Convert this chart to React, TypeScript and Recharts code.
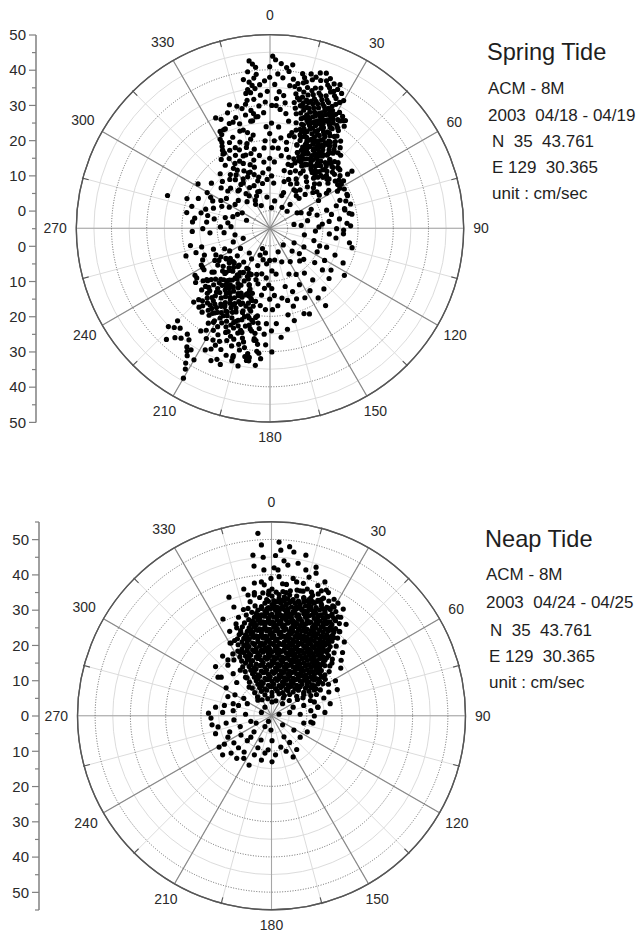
import React from 'react';
import {
  RadarChart,
  PolarGrid,
  PolarAngleAxis,
  PolarRadiusAxis,
  LineChart,
  Line,
  YAxis,
  XAxis,
  ScatterChart,
  Scatter,
} from 'recharts';

const FONT = 'Arial, "Liberation Sans", Helvetica, sans-serif';

// ---------------- DATA ----------------
// Spring tide: [direction (deg, clockwise from north), speed (cm/s)]
const springNNE: [number, number][] = [
  [10,36],[14,38],[18,35],[22,39],[26,37],[12,40],[16,34.5],[20,37.5],[24,35],[28,38.5],[11,34],[15,36.5],[19,39.5],[23,36],[27,34],[13,37.5],[17,40],[21,35.5],[25,38],[29,36],[9,38],[14,35],[18,37],[22,34.5],[26,39],[30,37],[12,35.5],[16,39],[20,36],[24,37.5],[28,35],[15,40.5],[19,34],[23,38.5],[27,36.5],[11,37],[21,40],[25,34.5],[17,36],[13,39],[22,41],[26,40.5],[18,41.5],[24,40],[20,42],
  [12,30],[15,32],[18,29],[21,33],[24,31],[27,28.5],[30,32.5],[33,30],[14,33.5],[17,31],[20,28],[23,30.5],[26,33],[29,29.5],[32,31.5],[35,29],[13,28.5],[16,30],[19,32.5],[22,29.5],[25,32],[28,30],[31,33.5],[34,32],[11,31.5],[18,33],[21,30.5],[24,28.5],[27,31.5],[30,29],[33,33],[15,29],[20,31.5],[23,33.5],[26,29],[29,32],[36,31],[17,28],[22,32],[25,30],[28,33],[31,30],[14,31],[19,30],[24,33],[27,29.5],[32,28.5],[16,33],[21,29],[26,31],[30,31],[34,29.5],[13,32.5],[18,31],[23,28],[28,31.5],[20,33.5],[25,29],[29,30.5],[33,31.5],[15,31],[22,30],[27,32.5],[31,28.5],[19,28.5],[24,30],[35,32.5],[17,32.5],[26,28],[12,33],
  [15,24],[18,26],[21,23],[24,27],[27,25],[30,22.5],[33,26.5],[36,24],[39,27],[16,27.5],[19,22.5],[22,25.5],[25,23],[28,27.5],[31,24.5],[34,22],[37,26],[40,23.5],[17,24.5],[20,27],[23,22],[26,26],[29,23.5],[32,27],[35,25],[38,22.5],[41,25.5],[18,23],[21,26.5],[24,24.5],[27,22.5],[30,26],[33,24],[36,27.5],[14,26],[19,25],[22,27.5],[25,25.5],[28,23],[31,27],[34,25],[37,23],[20,24],[23,26],[26,23.5],[29,26.5],[32,23],[35,27],[24,22.5],[27,27],[30,24],[17,26],[21,24.5],[28,25],[33,22.5],[38,25],[42,24],[25,28],[19,27.5],[31,25.5],
  [18,20],[22,17],[26,21],[30,16],[34,19],[38,21.5],[42,17.5],[46,20],[20,18],[24,21],[28,15.5],[32,20],[36,17],[40,19.5],[44,16],[48,21],[21,15],[25,18.5],[29,20.5],[33,16.5],[37,19],[41,21],[45,18],[49,16.5],[19,21.5],[23,16],[27,19],[31,21.5],[35,15.5],[39,18],[43,20.5],[47,17],[26,17],[30,19],[34,21],[38,16],[42,19],[50,19],[24,19.5],[28,17.5],[32,18],[36,20.5],[40,15],[46,16],[22,19],[44,21.5],[29,16],[33,21],[37,17.5],[41,16.5],
];
const springNE: [number, number][] = [
  [15,22],[22,20],[30,18],[38,22],[45,20],[50,17],[27,15],[35,13],[42,11],[20,12],[12,18],[55,22],[33,23],[40,16],[25,9],[48,14],[18,24],[58,19],[31,10],[44,24],[23,17],[37,19],[52,12],[16,14],[29,21],[46,9],[39,7],[21,6],[34,16],[57,15],[26,19],[43,18],[13,23],[49,21],[32,8],[24,13],[41,14],[54,18],[19,16],[36,21],[28,11],[47,17],[11,20],[53,20],[35,24],[30,14],[22,23],[42,20],[17,9],[38,12],[60,18],[27,22],[45,13],[33,19],[20,18],[50,21],[25,16],[40,23],[14,12],[56,12],[31,20],[37,15],[44,7],[23,21],[48,19],[29,13],[35,8],[18,20],[52,16],[26,24],[41,21],[32,17],[15,16],[46,22],[38,9],[24,18],[55,19],[21,10],[43,15],[28,23],[36,18],[12,22],[50,11],[30,22],[39,24],[19,14],[47,12],[34,20],[57,20],[25,20],
];
const springNorth: [number, number][] = [
  [352,28],[353,32],[351,35],[354,38],[352,40],[355,30],[350,34],[353,36],[354,42],[351,29],[356,33],[352,37],[349,31],[355,39],[353,27],[350,38],[354,35],[358,37],[0,41],[2,43],[4,42],[3,39],[6,41],[5,38],[1,44],[7,40],[8,42],[2,36],[0,38],[359,34],[357,28],[4,34],[6,33],[351,26],[355,41],[353,43],[1,30],[3,32],[358,31],[356,36],[5,29],[350,32],[352,34],[8,36],[7,31],
];
const springNNW: [number, number][] = [
  [340,30],[341,27],[343,24],[335,22],[330,18],[345,20],[338,15],[325,12],[348,28],[333,25],[320,9],[342,17],[336,29],[328,20],[346,13],[339,19],[318,16],[344,26],[331,14],[347,23],[337,11],[331,23],[349,18],[334,8],[341,21],[325,19],[345,31],[333,26],[338,23],[316,11],[343,14],[332,16],[348,10],[336,26],[324,14],[340,8],[346,17],[330,22],[342,32],[327,10],[335,18],[350,22],[329,21],[344,11],[333,20],[339,27],[321,13],[347,15],[328,6],[352,16],[336,13],[325,17],[343,28],[331,24],[357,20],[338,5],[345,24],[329,20],[341,12],[334,30],[355,14],[329,15],[350,26],[337,20],[315,14],[346,9],[332,11],[353,11],[340,17],[326,7],[348,21],[335,26],[358,24],[330,10],[344,19],[354,27],[342,6],[322,9],[356,18],[339,12],[312,7],[347,30],[333,4],[359,12],[336,16],[351,8],[328,13],[345,6],[357,9],
  [0,15],[3,20],[5,24],[2,10],[6,18],[8,28],[4,14],[1,25],[7,21],[9,16],[5,8],[3,30],[0,22],[10,26],[2,18],
];
const springWest: [number, number][] = [
  [300,15.5],[296,13],[278,16.5],[275,17],[283,15],[290,12],[305,10],[270,14],[286,18],[298,8],[280,11],[293,17],[310,13],[272,9],[288,6],[302,19],[266,12],[284,8],[295,10],[276,13],[308,16],[290,20],[268,17],[281,19],[298,14],[273,6],[305,7],[287,14],[294,5],[278,7],[312,11],[265,8],[288,25.5],[300,11],[282,13],
];
const springSSW: [number, number][] = [
  [186,28],[190,31],[194,27],[198,30],[202,32],[206,28.5],[210,31],[213,27],[188,26.5],[192,29.5],[196,32.5],[200,27.5],[204,30],[208,26.5],[212,29],[185,30.5],[189,33],[193,28],[197,26],[201,29],[205,31.5],[209,28],[214,30],[187,27],[191,32],[195,29],[199,33],[203,27],[207,30.5],[211,26],[184,32],[198,28],[202,26.5],[206,33],[194,30.5],
  [187,22],[190,24.5],[193,21],[196,25],[199,22.5],[202,20.5],[205,24],[208,21.5],[211,25.5],[214,22],[217,24],[220,20.5],[223,23],[226,25],[189,20.5],[192,23],[195,25.5],[198,20],[201,23.5],[204,21],[207,25],[210,22.5],[213,20.5],[216,23],[219,25.5],[222,21.5],[225,23.5],[228,21],[188,25],[191,21.5],[194,23.5],[197,22],[200,25],[203,22.5],[206,20],[209,24],[212,23],[215,25],[218,21],[221,24],[224,20.5],[186,23.5],[196,21],[200,23],[204,25.5],[208,23],[212,21],[216,21.5],[220,22.5],[194,20.5],[198,24],[202,24.5],[206,22.5],[210,20.5],[214,24],[218,22.5],[222,25],[190,22],[207,21.5],[213,23.5],
  [191,16],[194,18.5],[197,15],[200,17.5],[203,19.5],[206,15.5],[209,18],[212,16.5],[215,19],[218,15],[221,17.5],[224,19.5],[227,16],[230,18],[233,15.5],[193,19],[196,17],[199,14.5],[202,16],[205,18.5],[208,14],[211,19.5],[214,17],[217,15.5],[220,18.5],[223,16],[226,19],[229,17],[232,19],[195,15.5],[198,19.5],[201,18],[204,15],[207,17],[210,15.5],[213,18],[216,16.5],[219,19.5],[222,14.5],[225,17.5],[228,19.5],[192,17.5],[205,16],[210,17.5],[215,14.5],[220,16],[200,15],[203,17.5],[208,19],[212,14.5],[218,18],[224,15],[197,18],[206,19],[214,15.5],
  [195,10],[200,12],[205,9],[210,13],[215,11],[220,8.5],[225,12.5],[230,10],[235,13],[240,11],[198,13.5],[203,10.5],[208,8],[213,12],[218,13.5],[223,10],[228,13],[233,9],[238,12],[196,8.5],[206,11.5],[211,9.5],[216,13],[221,11],[226,9],[231,12],[202,9],[214,10],[224,11.5],[236,10],
];
const springSouthFringe: [number, number][] = [
  [185,12],[190,8],[195,14],[240,13],[245,16],[235,10],[230,7],[180,15],[188,20],[183,25],[186,30],[190,33],[193,35],[188,27],[182,22],[178,18],[184,9],[192,11],[198,6],[205,10],[210,8],[215,12],[220,9],[225,13],[232,15],[238,17],[242,17],[248,15],[252,17],[236,20],[240,17],[244,12],[234,21],[238,20],[200,12],[207,13],[213,11],[219,14],[226,11],[231,18],[187,17],[194,16],[181,11],[176,14],[179,24],[189,32],[196,34],[202,35],[208,34],[198,13],[203,9],[211,5],[218,7],[228,9],[246,9],[250,12],[255,15],[258,18],[252,20],[185,5],[192,4],[200,3],[236,5],[241,8],[177,7],[183,18],[187,14],[191,24],[186,34],[179,30],[182,28],
  [222,33],[224,34],[219,35],[215,36],[214,37],[213,38],[212,40],[211,41.5],[210,44],[213,36],[216,34],[218,33],[221,36],[210,38],[225,32],[226,35],[223,38],[204,36],[200,36],[196,33],
];
const springEast: [number, number][] = [
  [100,18],[103,19],[109,10],[127,11],[137,7.5],[147,16],[155,21.7],[159,16.3],[176,22],[170,15],[165,12],[150,10],[140,14],[130,17],[120,13],[112,15],[105,8],[118,6],[135,4],[160,5],[172,8],[145,19],[152,13],[163,18],[168,20],[174,17],[157,9],[142,11],[132,8],[124,16],[116,10],[108,12],[98,14],[160,14],[148,6],[138,18],[128,14],[153,17],[166,16],[178,12],[171,4],[158,21],[144,22],[115,18],[122,20],[174,26],[170,24],[165,22],
  [68,16.5],[80,18.7],[55,23.5],[62,19],[72,12],[85,10],[90,14],[75,17],[65,8],[58,14],[78,6],[88,18],[93,8],[70,18],[60,11],[82,15],[67,19],[74,9],[86,17],[95,12],[63,5],[77,13],[84,4],[91,16],[57,18],[71,15],[79,18],[66,19],[88,9],[61,17],[73,19],[83,12],[94,16],[69,7],[76,17],
  [10,3],[40,4],[80,2],[120,3],[160,2],[200,1],[250,3],[290,2],[330,3],[20,5],[60,4],[100,5],[140,1],[180,4],[220,4],[260,5],[300,4],[340,2],[5,1],[45,2],[130,6],[250,6],[320,5],[355,4],[30,2],[190,2],
];

// Neap tide: [east, north] velocity components (cm/s)
const neapCore: [number, number][] = [
  [0,34],[2,34.4],[3.5,33.8],[5,34.3],[7,34],[9,33.6],[11.5,34.2],
  [-1.5,33],[0.5,32.7],[2,33.3],[3,32.8],[4.5,33.2],[6,33],[7.5,32.6],[9,33.4],[10.5,33],[13,32.8],
  [-2,32],[0,31.6],[1,32.3],[2.5,32],[4,31.7],[5,32.2],[6.5,32],[8,31.6],[9,32.4],[10.5,31.8],[12,32],[14,31.7],
  [-3,31],[-1,30.7],[0.5,31.3],[1.5,30.8],[3,31],[4,31.4],[5.5,30.9],[7,31],[8,30.6],[9.5,31.2],[11,31],[12.5,30.7],[14,31.3],[15.5,30.8],
  [-4,30],[-2,29.6],[-0.5,30.3],[1,30],[2,29.7],[3.5,30.2],[4.5,30],[6,29.6],[7,30.4],[8.5,30],[9.5,29.7],[11,30.2],[12,29.8],[13.5,30.1],[15,29.6],[16.5,30.2],
  [-4.5,29],[-3,28.7],[-1.5,29.3],[0,28.8],[1.5,29.1],[2.5,28.6],[4,29.2],[5,28.9],[6.5,29.3],[7.5,28.7],[9,29],[10,29.4],[11.5,28.8],[12.5,29.1],[14,28.7],[15,29.2],[17,28.9],
  [-5,28],[-3.5,27.6],[-2,28.3],[-1,27.8],[0.5,28],[2,28.4],[3,27.7],[4.5,28.1],[5.5,27.8],[7,28.3],[8,27.6],[9.5,28],[10.5,28.4],[12,27.7],[13,28.1],[14.5,27.8],[16,28.2],[17.5,27.7],
  [-5.5,27],[-4,27.3],[-2.5,26.7],[-1,27.1],[0,26.6],[1.5,27.2],[2.5,26.8],[4,27.3],[5,26.7],[6,27],[7.5,27.4],[8.5,26.8],[10,27.1],[11,26.6],[12.5,27.2],[13.5,26.9],[15,27.3],[16,26.7],[18,27],
  [-6,26],[-4.5,25.7],[-3,26.3],[-2,25.8],[-0.5,26.2],[1,25.7],[2,26.1],[3.5,25.8],[4.5,26.3],[6,25.9],[7,26.2],[8,25.6],[9.5,26],[10.5,26.4],[12,25.8],[13,26.1],[14.5,25.7],[15.5,26.2],[17,25.9],
  [-6.5,25],[-5,25.3],[-3.5,24.7],[-2,25.1],[-1,24.6],[0.5,25.2],[1.5,24.8],[3,25.3],[4,24.7],[5.5,25],[6.5,25.4],[7.5,24.8],[9,25.1],[10,24.6],[11.5,25.2],[12.5,24.9],[14,25.3],[15,24.7],[16.5,25.1],[18,24.8],
  [-7,24],[-5.5,23.7],[-4,24.3],[-3,23.8],[-1.5,24.1],[0,23.6],[1,24.2],[2.5,23.8],[3.5,24.3],[5,23.9],[6,24.1],[7,23.6],[8.5,24.2],[9.5,23.8],[11,24.1],[12,23.7],[13.5,24.3],[14.5,23.8],[16,24.1],[17.5,23.7],
  [-7.5,23],[-6,23.3],[-4.5,22.7],[-3,23.1],[-2,22.6],[-0.5,23.2],[0.5,22.8],[2,23.3],[3,22.7],[4.5,23],[5.5,23.4],[7,22.8],[8,23.1],[9,22.6],[10.5,23.2],[11.5,22.9],[13,23.3],[14,22.7],[15.5,23.1],[17,22.8],
  [-8,22],[-6.5,21.7],[-5,22.3],[-4,21.8],[-2.5,22.1],[-1,21.6],[0,22.2],[1.5,21.8],[2.5,22.3],[4,21.9],[5,22.1],[6,21.6],[7.5,22.2],[8.5,21.8],[10,22.1],[11,21.7],[12.5,22.3],[13.5,21.8],[15,22.1],[16,21.7],[17.5,22.2],
  [-8.5,21],[-7,21.3],[-5.5,20.7],[-4,21.1],[-3,20.6],[-1.5,21.2],[-0.5,20.8],[1,21.3],[2,20.7],[3.5,21],[4.5,21.4],[6,20.8],[7,21.1],[8,20.6],[9.5,21.2],[10.5,20.9],[12,21.3],[13,20.7],[14.5,21.1],[15.5,20.8],[17,21.2],
  [-8,20],[-6.5,19.7],[-5,20.3],[-3.5,19.8],[-2.5,20.1],[-1,19.6],[0.5,20.2],[1.5,19.8],[3,20.3],[4,19.9],[5.5,20.1],[6.5,19.6],[7.5,20.2],[9,19.8],[10,20.1],[11.5,19.7],[12.5,20.3],[14,19.8],[15,20.1],[16.5,19.7],
  [-8.5,19],[-7,19.3],[-5.5,18.7],[-4.5,19.1],[-3,18.6],[-2,19.2],[-0.5,18.8],[1,19.3],[2,18.7],[3.5,19],[4.5,19.4],[5.5,18.8],[7,19.1],[8,18.6],[9.5,19.2],[10.5,18.9],[12,19.3],[13,18.7],[14.5,19.1],[16,18.8],
  [-8,18],[-6.5,17.7],[-5,18.3],[-4,17.8],[-2.5,18.1],[-1,17.6],[0,18.2],[1.5,17.8],[2.5,18.3],[4,17.9],[5,18.1],[6.5,17.6],[7.5,18.2],[9,17.8],[10,18.1],[11.5,17.7],[12.5,18.3],[14,17.8],[15.5,18.1],
  [-7.5,17],[-6,17.3],[-4.5,16.7],[-3.5,17.1],[-2,16.6],[-0.5,17.2],[0.5,16.8],[2,17.3],[3,16.7],[4.5,17],[5.5,17.4],[7,16.8],[8,17.1],[9.5,16.6],[10.5,17.2],[12,16.9],[13,17.3],[14.5,16.7],[16,17.1],
  [-7,16],[-5.5,15.7],[-4,16.3],[-3,15.8],[-1.5,16.1],[0,15.6],[1,16.2],[2.5,15.8],[3.5,16.3],[5,15.9],[6,16.1],[7.5,15.6],[8.5,16.2],[10,15.8],[11,16.1],[12.5,15.7],[13.5,16.3],[15,15.8],
  [-7.5,15],[-6,15.3],[-4.5,14.7],[-2.5,15.1],[-1,14.6],[0.5,15.2],[1.5,14.8],[3,15.3],[4,14.7],[5.5,15],[6.5,15.4],[8,14.8],[9,15.1],[10.5,14.6],[11.5,15.2],[13,14.9],[14.5,15.3],
  [-6.5,14],[-5,13.7],[-3.5,14.3],[-2,13.8],[-0.5,14.1],[1,13.6],[2,14.2],[3.5,13.8],[4.5,14.3],[6,13.9],[7,14.1],[8.5,13.6],[9.5,14.2],[11,13.8],[12,14.1],[13.5,13.7],[15,14.3],
  [-6,13],[-4.5,13.3],[-3,12.7],[-1.5,13.1],[0,12.6],[1.5,13.2],[2.5,12.8],[4,13.3],[5,12.7],[6.5,13],[7.5,13.4],[9,12.8],[10,13.1],[11.5,12.6],[12.5,13.2],[14,12.9],
  [-5.5,12],[-4,11.7],[-2.5,12.3],[-1,11.8],[0.5,12.1],[2,11.6],[3,12.2],[4.5,11.8],[5.5,12.3],[7,11.9],[8,12.1],[9.5,11.6],[10.5,12.2],[12,11.8],[13.5,12.1],[15,11.7],
  [-5,11],[-3.5,11.3],[-2,10.7],[-0.5,11.1],[1,10.6],[2.5,11.2],[3.5,10.8],[5,11.3],[6,10.7],[7.5,11],[8.5,11.4],[10,10.8],[11,11.1],[12.5,10.6],[14,11.2],
  [-4.5,10],[-3,9.7],[-1.5,10.3],[0,9.8],[1.5,10.1],[3,9.6],[4,10.2],[5.5,9.8],[6.5,10.3],[8,9.9],[9,10.1],[10.5,9.6],[12,10.2],[13.5,9.8],
  [-4,9],[-2.5,9.3],[-1,8.7],[0.5,9.1],[2,8.6],[3.5,9.2],[4.5,8.8],[6,9.3],[7,8.7],[8.5,9],[10,9.4],[11.5,8.8],[13,9.1],
  [-3.5,8],[-2,7.7],[-0.5,8.3],[1,7.8],[2.5,8.1],[4,7.6],[5,8.2],[6.5,7.8],[8,8.3],[9.5,7.9],[11,8.1],[12.5,7.7],
  [-3,7],[-1.5,7.3],[0,6.7],[1.5,7.1],[3,6.6],[4.5,7.2],[6,6.8],[7.5,7.3],[9,6.7],[10.5,7],[12,7.4],
  [-2,6],[0,5.7],[2,6.3],[3.5,5.8],[5,6.1],[7,5.6],[9,6.2],[11,5.8],
];
const neapCoreFill: [number, number][] = [
  [-1,32.5],[1.5,32.4],[3.5,32.6],[5.5,32.5],[7.5,32.3],[9.5,32.6],[11.5,32.4],[13,32.5],
  [-3,30.5],[-1.5,30.4],[0.5,30.6],[2.5,30.5],[4.5,30.4],[6.5,30.6],[8.5,30.4],[10.5,30.6],[12.5,30.5],[14.5,30.4],[16,30.6],
  [-4,28.5],[-2.5,28.4],[-0.5,28.6],[1.5,28.5],[3.5,28.4],[5.5,28.6],[7.5,28.5],[9.5,28.4],[11.5,28.6],[13.5,28.5],[15.5,28.4],[17,28.5],
  [-5,26.5],[-3.5,26.4],[-1.5,26.6],[0.5,26.5],[2.5,26.4],[4.5,26.6],[6.5,26.5],[8.5,26.4],[10.5,26.6],[12.5,26.5],[14.5,26.4],[16.5,26.6],
  [-6,24.5],[-4.5,24.4],[-2.5,24.6],[-0.5,24.5],[1.5,24.4],[3.5,24.6],[5.5,24.5],[7.5,24.4],[9.5,24.6],[11.5,24.5],[13.5,24.4],[15.5,24.6],[17,24.5],
  [-7,22.5],[-5.5,22.4],[-3.5,22.6],[-1.5,22.5],[0.5,22.4],[3.5,22.6],[6.5,22.5],[9.5,22.4],[12,22.6],[14.5,22.5],[16.5,22.4],
  [-7,20.5],[-5,20.4],[-2,20.6],[0,20.5],[2.5,20.4],[5,20.6],[8.5,20.5],[11,20.4],[13.5,20.6],[16,20.5],
  [-7,18.5],[-4.5,18.4],[-1.5,18.6],[1,18.5],[3,18.4],[6,18.6],[8.5,18.5],[11,18.4],[13.5,18.6],[15,18.5],
  [-6.5,16.5],[-4,16.4],[-1,16.6],[1.5,16.5],[4,16.4],[6.5,16.6],[9,16.5],[11.5,16.4],[14,16.6],[15.5,16.5],
  [-6,14.5],[-3,14.4],[0,14.6],[2.5,14.5],[5,14.4],[7.5,14.6],[10,14.5],[12.5,14.4],[14,14.6],
  [-5,12.5],[-2,12.4],[1,12.6],[3.5,12.5],[6,12.4],[8.5,12.6],[11,12.5],[13,12.4],
  [-4,10.5],[-1,10.4],[2,10.6],[4.5,10.5],[7,10.4],[9.5,10.6],[11.5,10.5],[13,10.4],
  [-3,8.5],[0,8.4],[3,8.6],[5.5,8.5],[7.5,8.4],[10,8.6],[12,8.5],
];
const neapEdge: [number, number][] = [
  [-5,34.3],[-3.5,33.6],[-6.2,32.4],[-4.8,31.2],[-6.8,30.5],[-5.7,29.4],[-7.3,28.6],[-6.6,27.3],[-7.8,26.4],[-8.4,25.3],[-8.9,24.2],[-9.3,23.1],[-9.8,21.9],[-9.6,20.2],[-9.7,18.4],[-9.1,16.8],[-8.6,15.6],[-8.3,13.9],[-7.6,12.6],[-7.1,10.8],[-6.4,9.6],[-5.6,7.9],[-4.9,6.6],[-4.1,5.4],[-2.8,4.6],[-1.2,4.9],[1.1,4.3],[3.2,5.1],[4.9,4.4],[7.2,4.7],[8.8,5.2],[10.9,4.4],[12.6,6.1],[13.7,7.4],[14.4,9.2],[15.1,10.4],[16.2,12.6],[16.4,14.2],[17.1,16.1],[17.6,17.9],[18.2,19.8],[18.6,22.1],[19.2,23.9],[19.1,26.2],[18.7,28.1],[18.1,29.6],[17.2,31.2],[16.1,32.6],[14.6,33.4],[13.1,34.6],[11.2,35.1],[8.8,35.4],[7.1,35.7],[5.2,35.5],[3.1,35.3],[1.2,35.1],[-0.9,35.4],[-2.6,34.9],[20.2,30.3],[19.6,15.8],[-10.6,21.4],[-10.2,26.1],[-11.1,17.6],[-8.1,30.2],[15.4,35.7],[17.6,33.1],[-2.2,37.2],[4.1,37.3],[8.9,37.6],
];
const neapFringe: [number, number][] = [
  [-10.8,30.9],[-12.2,33.7],[-13.9,27.5],[-11.6,20.7],[-15.3,11],[-12.5,15.9],[-10.8,15.9],[-14.4,11],[-12.5,14.4],[-6.5,8.2],[-8.8,23.5],[-11.9,20.7],[-10,25],[-9.5,28],[-12,24],[-9,18],[-11,12],[-13,8],[-10,9.5],[-9,13],[-14,17],[-16,14],[-10.5,6],[-8,5],[-12.5,5.5],[-7.5,11],[-9.5,3],[-11,1.5],[-13.5,3],[-7,3.5],
  [18.7,32],[19.5,28],[17.6,30.9],[17.3,22.4],[19.5,13.6],[14.4,11],[16.1,6.8],[14.7,5.1],[13.3,19.5],[20,18],[19,24],[18,10],[16.5,3.5],[13,2.5],[11,1.5],[20.5,21],[17,15],[16,9],[12,4],[9,3],[6,2.5],[3,3.5],[0,4],[-2,2.5],[-4,4.5],[15,1],[18.5,7.5],[21,26],[14,33],[16,35],
];
const neapUpper: [number, number][] = [
  [2,49.3],[-4,51.8],[2.5,47],[6.2,46.5],[-5.4,45.6],[-2.5,45],[-5.1,42.5],[0.6,42],[4.5,42.8],[9.6,41.4],[12.5,42.2],[-6.8,34.3],[-5,35],[-2.3,41.4],[1.7,41.4],[3.4,44],[7.4,43.3],[9.6,45.6],[12.5,40.5],[10,36],[-0.3,39],[-3,38],[-5,37.7],[10.5,39.4],[0,36],[3,37.5],[6,39],[8,35.5],[13,37],[-1,34.5],[4,35],[11,33.5],[15,38],[5,48],[-3,48.5],[1,45.5],[7,38],[-8,36],[14,35.5],[2,39.5],
];
const neapLower: [number, number][] = [
  [-17.3,-0.6],[-18,0.8],[-15,-8.8],[-11.6,-10.5],[-6.5,-13.9],[-1.1,-9.6],[6,-11.6],[2.5,-8.8],[-7.9,-10.2],[-8.8,-5.4],[-15.3,-3.1],[-10.8,-1.1],[-5.1,-4.5],[-10.8,-7.6],[-3.1,-6.8],[-0.3,-4],[3.4,-5.9],[6.2,-4],[11,-1.7],[11.6,-2],[13,2.5],
  [-13,-2],[-16,-5],[-12,-4.5],[-14,1],[-9,-3],[-7,-7],[-4,-9],[-2,-3],[0,-7],[-6,-1.5],[-12.5,-6],[-9.5,-9],[-5,-11],[-3,-12.5],[-8,-12],[1,-11],[3,-2.5],[5,-7.5],[8,-6],[9,-2],[7,-9.5],[-1,-1.5],[-4.5,-2],[-7.5,0.5],[-3,1],[2,0.5],[5,1],[8,0.5],[-11,3.5],[-16,2.5],[-13.5,-8],[-10,-12],[4,-10],[10,-4.5],[12,0],[-6,-6],[-2,-10.5],[0,-13],[-14,-11],[-17,-2.5],
];

// Axes / labels
const angleTicksAll = [0, 15, 30, 45, 60, 75, 90, 105, 120, 135, 150, 165, 180, 195, 210, 225, 240, 255, 270, 285, 300, 315, 330, 345];
const angleTicksCardinal = [0, 90, 180, 270];
const angleTicksOblique = [30, 60, 120, 150, 210, 240, 300, 330];
const angleLabelStep = 30;

const springRange: [number, number] = [-5, 50];
const springRingsDotted = [0, 10, 20, 30, 40];
const springRingsLight = [5, 15, 25, 35, 45];
const neapRange: [number, number] = [0, 55];
const neapRingsDotted = [10, 20, 30, 40, 50];
const neapRingsLight = [5, 15, 25, 35, 45];
const axisLabels = [0, 10, 20, 30, 40, 50];
const axisMinorStep = 5;

const springTitle = 'Spring Tide';
const springInfo = ['ACM - 8M', '2003  04/18 - 04/19', 'N  35  43.761', 'E 129  30.365', 'unit : cm/sec'];
const neapTitle = 'Neap Tide';
const neapInfo = ['ACM - 8M', '2003  04/24 - 04/25', 'N  35  43.761', 'E 129  30.365', 'unit : cm/sec'];

// ---------------- TABLES ----------------
// polar (direction, speed) -> position on the polar plot, measured from the plot centre
// in radius-axis units (the radius axis starts at range[0] at the centre)
const toPlot = (dir: number, spd: number, rMin: number) => {
  const r = spd - rMin;
  const a = (dir * Math.PI) / 180;
  return { x: r * Math.sin(a), y: r * Math.cos(a) };
};

const springData = [
  ...springNNE, ...springNE, ...springNorth, ...springNNW, ...springWest,
  ...springSSW, ...springSouthFringe, ...springEast,
].map(([dir, spd]) => toPlot(dir, spd, springRange[0]));

const neapData = [...neapCore, ...neapCoreFill, ...neapEdge, ...neapFringe, ...neapUpper, ...neapLower].map(([e, n]) =>
  toPlot((Math.atan2(e, n) * 180) / Math.PI, Math.hypot(e, n), neapRange[0]),
);

// ---------------- COMPONENTS ----------------
type PanelProps = {
  top: number;
  height: number;
  cx: number;
  cy: number;
  R: number;
  range: [number, number];
  dotted: number[];
  light: number[];
};

const W = 637;
const M0 = { top: 0, right: 0, bottom: 0, left: 0 };

const angleTick = (props: any) => {
  const { x, y, payload } = props;
  const v = payload.value as number;
  const a = (payload.coordinate ?? 90 - v) as number;
  const ux = Math.cos((-a * Math.PI) / 180);
  const uy = Math.sin((-a * Math.PI) / 180);
  if (v % angleLabelStep !== 0) {
    return <line x1={x} y1={y} x2={x - ux * 7} y2={y - uy * 7} stroke="#555" strokeWidth={1.1} />;
  }
  const label = String(v);
  const w = label.length * 7.8;
  const h = 10;
  const d = 8.5 + (uy < 0 ? 5 : 0.5) * Math.abs(uy) + Math.sqrt((ux * w / 2) ** 2 + (uy * h / 2) ** 2);
  return (
    <text x={x + ux * d} y={y + uy * d} dy="0.35em" textAnchor="middle" fontSize={14} fill="#2a2a2a" fontFamily={FONT}>
      {label}
    </text>
  );
};

const axisDomainData = [{ dir: 0, spd: 0 }];

function PolarPanel(p: PanelProps) {
  const chartProps = {
    width: W,
    height: p.height,
    cx: p.cx,
    cy: p.cy,
    innerRadius: 0,
    outerRadius: p.R,
    startAngle: 90,
    endAngle: -270,
    data: axisDomainData,
    margin: M0,
  };
  const hiddenAngle = (ticks: number[]) => (
    <PolarAngleAxis
      dataKey="dir"
      type="number"
      domain={[0, 360]}
      allowDataOverflow
      ticks={ticks}
      axisLine={false}
      tickLine={false}
      tick={false}
    />
  );
  const hiddenRadius = (ticks: number[]) => (
    <PolarRadiusAxis
      dataKey="spd"
      type="number"
      domain={p.range}
      allowDataOverflow
      ticks={ticks}
      axisLine={false}
      tickLine={false}
      tick={false}
    />
  );
  const layer: React.CSSProperties = { position: 'absolute', left: 0, top: p.top };
  return (
    <>
      <div style={layer}>
        <RadarChart {...chartProps}>
          {hiddenAngle(angleTicksAll)}
          {hiddenRadius(p.light)}
          <PolarGrid gridType="circle" stroke="#dcdcdc" strokeWidth={1} />
        </RadarChart>
      </div>
      <div style={layer}>
        <RadarChart {...chartProps}>
          {hiddenAngle(angleTicksCardinal)}
          {hiddenRadius([p.range[1]])}
          <PolarGrid gridType="circle" stroke="#a6a6a6" strokeWidth={1.1} />
        </RadarChart>
      </div>
      <div style={layer}>
        <RadarChart {...chartProps}>
          {hiddenAngle(angleTicksOblique)}
          {hiddenRadius([p.range[1]])}
          <PolarGrid gridType="circle" stroke="#888" strokeWidth={1.2} />
        </RadarChart>
      </div>
      <div style={layer}>
        <RadarChart {...chartProps}>
          {hiddenAngle(angleTicksAll)}
          {hiddenRadius(p.dotted)}
          <PolarGrid gridType="circle" radialLines={false} stroke="#666" strokeWidth={1} strokeDasharray="1 1.6" />
        </RadarChart>
      </div>
      <div style={layer}>
        <RadarChart {...chartProps}>
          <PolarAngleAxis
            dataKey="dir"
            type="number"
            domain={[0, 360]}
            allowDataOverflow
            ticks={angleTicksAll}
            axisLineType="circle"
            axisLine={{ stroke: '#555', strokeWidth: 1.4 }}
            tickLine={false}
            tickSize={1}
            tick={angleTick}
          />
          {hiddenRadius(p.dotted)}
        </RadarChart>
      </div>
    </>
  );
}

const dotShape = (props: any) => <circle cx={props.cx} cy={props.cy} r={2.6} fill="#000" />;

function DotsLayer({ cx, cy, R, range, data }: { cx: number; cy: number; R: number; range: [number, number]; data: { x: number; y: number }[] }) {
  const span = range[1] - range[0];
  const pad = 4;
  return (
    <div style={{ position: 'absolute', left: cx - R - pad, top: cy - R - pad }}>
      <ScatterChart width={2 * R + 2 * pad} height={2 * R + 2 * pad} margin={{ top: pad, right: pad, bottom: pad, left: pad }}>
        <XAxis type="number" dataKey="x" domain={[-span, span]} allowDataOverflow hide />
        <YAxis type="number" dataKey="y" domain={[-span, span]} allowDataOverflow hide />
        <Scatter data={data} shape={dotShape} isAnimationActive={false} />
      </ScatterChart>
    </div>
  );
}

function LeftAxis({ axisX, cy, R, range }: { axisX: number; cy: number; R: number; range: [number, number] }) {
  const span = range[1] - range[0];
  const majors = new Map<number, number>();
  axisLabels.forEach((v) => {
    const d = v - range[0];
    majors.set(d, v);
    majors.set(-d, v);
  });
  const ticks: number[] = [];
  for (let t = -span; t <= span + 1e-9; t += axisMinorStep) ticks.push(Math.round(t * 100) / 100);
  const tick = (props: any) => {
    const { x, y, payload } = props;
    const lab = majors.get(payload.value);
    const major = lab !== undefined;
    return (
      <g>
        <line x1={x - (major ? 7 : 4)} y1={y} x2={x} y2={y} stroke="#808080" strokeWidth={1.2} />
        {major && (
          <text x={x - 10} y={y} dy="0.35em" textAnchor="end" fontSize={15} fill="#2a2a2a" fontFamily={FONT}>
            {lab}
          </text>
        )}
      </g>
    );
  };
  const pad = 10;
  return (
    <div style={{ position: 'absolute', left: 0, top: cy - R - pad }}>
      <LineChart
        width={axisX + 20}
        height={2 * R + 2 * pad}
        data={[{ y: -span }, { y: span }]}
        margin={{ top: pad, right: 0, bottom: pad, left: 0 }}
      >
        <YAxis
          type="number"
          dataKey="y"
          domain={[-span, span]}
          ticks={ticks}
          interval={0}
          width={axisX}
          tickSize={0}
          tickMargin={0}
          tickLine={false}
          axisLine={{ stroke: '#808080', strokeWidth: 1.5 }}
          tick={tick}
        />
        <Line dataKey="y" stroke="none" dot={false} isAnimationActive={false} />
      </LineChart>
    </div>
  );
}

function InfoText({ title, lines, titleX, titleY, xs, ys }: { title: string; lines: string[]; titleX: number; titleY: number; xs: number[]; ys: number[] }) {
  return (
    <g fontFamily={FONT} fill="#1e1e1e">
      <text x={titleX} y={titleY} fontSize={23.6}>
        {title}
      </text>
      {lines.map((l, i) => (
        <text key={i} x={xs[i]} y={ys[i]} fontSize={17} style={{ whiteSpace: 'pre' }} xmlSpace="preserve">
          {l}
        </text>
      ))}
    </g>
  );
}

const SPRING = { cx: 270, cy: 228.3, R: 193.7 };
const NEAP = { cx: 271.5, cy: 715.8, R: 194 };
const NEAP_TOP = 466;

export default function App() {
  return (
    <div style={{ position: 'absolute', left: 0, top: 0, width: 637, height: 933, background: '#fff', overflow: 'hidden' }}>
      <PolarPanel
        top={0}
        height={466}
        cx={SPRING.cx}
        cy={SPRING.cy}
        R={SPRING.R}
        range={springRange}
        dotted={springRingsDotted}
        light={springRingsLight}
      />
      <PolarPanel
        top={NEAP_TOP}
        height={933 - NEAP_TOP}
        cx={NEAP.cx}
        cy={NEAP.cy - NEAP_TOP}
        R={NEAP.R}
        range={neapRange}
        dotted={neapRingsDotted}
        light={neapRingsLight}
      />
      <DotsLayer cx={SPRING.cx} cy={SPRING.cy} R={SPRING.R} range={springRange} data={springData} />
      <DotsLayer cx={NEAP.cx} cy={NEAP.cy} R={NEAP.R} range={neapRange} data={neapData} />
      <LeftAxis axisX={36} cy={SPRING.cy} R={SPRING.R} range={springRange} />
      <LeftAxis axisX={39} cy={NEAP.cy} R={NEAP.R} range={neapRange} />
      <svg width={637} height={933} style={{ position: 'absolute', left: 0, top: 0, pointerEvents: 'none' }}>
        <InfoText
          title={springTitle}
          lines={springInfo}
          titleX={487}
          titleY={59.5}
          xs={[488, 488, 492, 492, 492]}
          ys={[94, 120.5, 147, 173, 199]}
        />
        <InfoText
          title={neapTitle}
          lines={neapInfo}
          titleX={485}
          titleY={547}
          xs={[486, 486, 490, 489, 489]}
          ys={[579.5, 608, 635.5, 662, 688]}
        />
      </svg>
    </div>
  );
}
